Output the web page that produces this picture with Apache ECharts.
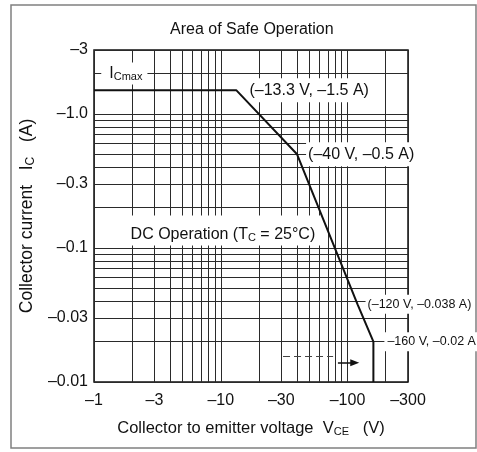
<!DOCTYPE html>
<html>
<head>
<meta charset="utf-8">
<script src="https://cdn.jsdelivr.net/npm/echarts@6/dist/echarts.min.js"></script>
<style>
    html, body { margin: 0; padding: 0; background: #fff; }
    #chart-container { width: 477px; height: 452px; }
</style>
</head>
<body>
<div id="chart-container"></div>
<script>
// safe operating area curve, plotted as magnitudes (axes are labelled negative)
var vce = [1, 13.3, 40, 120, 160, 160];
var ic = [1.5, 1.5, 0.5, 0.038, 0.02, 0.01];

// tick labels
var xTicks = [1, 3, 10, 30, 100, 300];
var xTickLabels = ['–1', '–3', '–10', '–30', '–100', '–300'];
var yTicks = [0.01, 0.03, 0.1, 0.3, 1, 3];
var yTickLabels = ['–0.01', '–0.03', '–0.1', '–0.3', '–1.0', '–3'];

// log grid lines (1..9 per decade)
var xGrid = [1, 2, 3, 4, 5, 6, 7, 8, 9, 10, 20, 30, 40, 50, 60, 70, 80, 90, 100, 200, 300];
var yGrid = [0.01, 0.02, 0.03, 0.04, 0.05, 0.06, 0.07, 0.08, 0.09,
    0.1, 0.2, 0.3, 0.4, 0.5, 0.6, 0.7, 0.8, 0.9, 1, 2, 3];

// dashed guide and arrow near the bottom
var guideLine = [[31, 0.0156], [77, 0.0156]];
var guideArrow = [[84, 0.0139], [114, 0.0139]];

// annotation anchors
var notePoints = [[1.1, 2], [13.3, 1.5], [40, 0.5], [10.4, 0.135], [120, 0.038], [160, 0.02]];

(function () {
    var domChart = document.getElementById('chart-container');
    var ioChart = echarts.init(domChart, null, { renderer: 'canvas' });
    var FONT = '"Liberation Sans", Arial, Helvetica, sans-serif';
    var INK = '#111';

    function pickLabel(ticks, labels) {
        return function (value) {
            for (var i = 0; i < ticks.length; i++) {
                if (Math.abs(Math.log(value / ticks[i])) < 0.01) {
                    return labels[i];
                }
            }
            return '';
        };
    }

    function subRich(size, subSize) {
        return {
            m: { fontSize: size, fontFamily: FONT, color: INK, lineHeight: size + 2 },
            s: { fontSize: subSize, fontFamily: FONT, color: INK, lineHeight: 10, verticalAlign: 'bottom' }
        };
    }

    var boxLabel = {
        show: true,
        position: 'right',
        fontFamily: FONT,
        fontSize: 16,
        color: INK,
        opacity: 1,
        backgroundColor: '#fff',
        padding: [3, 3]
    };

    var notes = [
        { text: '{m|I}{s|Cmax}', distance: 2, padding: [2, 5, 2, 8], rich: subRich(16, 11) },
        { text: '(–13.3 V, –1.5 A)', distance: 9, padding: [4, 4] },
        { text: '(–40 V, –0.5 A)', distance: 9, padding: [4, 2] },
        { text: '{m|DC Operation (T}{s|C}{m| = 25°C)}', position: 'inside', padding: [10, 6, 2, 6], rich: subRich(16, 11) },
        { text: '(–120 V, –0.038 A)', distance: 8, padding: [3, 2], fontSize: 12.5 },
        { text: '–160 V, –0.02 A', distance: 11, padding: [3, 3], fontSize: 12.5 }
    ];

    var noteData = notePoints.map(function (p, i) {
        var n = notes[i];
        var label = Object.assign({}, boxLabel, {
            formatter: n.text,
            distance: n.distance || 0,
            padding: n.padding
        });
        if (n.position) label.position = n.position;
        if (n.fontSize) label.fontSize = n.fontSize;
        if (n.rich) label.rich = n.rich;
        return { value: p, label: label };
    });

    var chartOption = {
        backgroundColor: '#fff',
        animation: false,
        title: {
            text: 'Area of Safe Operation',
            left: 165,
            top: 17,
            textStyle: { fontFamily: FONT, fontSize: 16, fontWeight: 'normal', color: INK }
        },
        graphic: [
            {
                type: 'rect',
                z: -1,
                shape: { x: 11, y: 5, width: 465, height: 443 },
                style: { fill: 'none', stroke: '#808080', lineWidth: 1.5 }
            }
        ],
        grid: {
            left: 94,
            right: 69,
            top: 50,
            bottom: 70,
            show: true,
            borderColor: INK,
            borderWidth: 1.5,
            backgroundColor: 'transparent'
        },
        xAxis: {
            type: 'log',
            logBase: 10,
            min: 1,
            max: 300,
            axisLine: { show: false },
            axisTick: { show: false, customValues: xGrid },
            splitLine: { show: true, lineStyle: { color: '#2a2a2a', width: 1 } },
            axisLabel: {
                customValues: xTicks,
                formatter: pickLabel(xTicks, xTickLabels),
                margin: 11,
                fontFamily: FONT,
                fontSize: 16,
                color: INK
            },
            name: '{m|Collector to emitter voltage  V}{s|CE}{m|   (V)}',
            nameLocation: 'middle',
            nameGap: 37,
            nameTextStyle: { rich: subRich(16.5, 11) }
        },
        yAxis: {
            type: 'log',
            logBase: 10,
            min: 0.01,
            max: 3,
            axisLine: { show: false },
            axisTick: { show: false, customValues: yGrid },
            splitLine: { show: true, lineStyle: { color: '#2a2a2a', width: 1 } },
            axisLabel: {
                customValues: yTicks,
                formatter: pickLabel(yTicks, yTickLabels),
                margin: 6,
                fontFamily: FONT,
                fontSize: 16,
                color: INK
            },
            name: '{m|Collector current   I}{s|C}{m|   (A)}',
            nameLocation: 'middle',
            nameGap: 54,
            nameTextStyle: { rich: subRich(17.5, 12) }
        },
        series: [
            {
                name: 'notes',
                type: 'scatter',
                symbolSize: 0,
                z: 2,
                itemStyle: { opacity: 1 },
                data: noteData
            },
            {
                name: 'DC',
                type: 'line',
                data: vce.map(function (v, i) { return [v, ic[i]]; }),
                symbol: 'none',
                lineStyle: { color: INK, width: 2 },
                z: 4,
                markLine: {
                    silent: true,
                    animation: false,
                    label: { show: false },
                    data: [
                        [
                            { coord: guideLine[0], symbol: 'none', lineStyle: { color: '#444', width: 1, type: [7, 4] } },
                            { coord: guideLine[1], symbol: 'none' }
                        ],
                        [
                            { coord: guideArrow[0], symbol: 'none', lineStyle: { color: INK, width: 1.5, type: 'solid' } },
                            { coord: guideArrow[1], symbol: 'triangle', symbolSize: [7, 9] }
                        ]
                    ]
                }
            }
        ]
    };

    ioChart.setOption(chartOption);
})();
</script>
</body>
</html>
